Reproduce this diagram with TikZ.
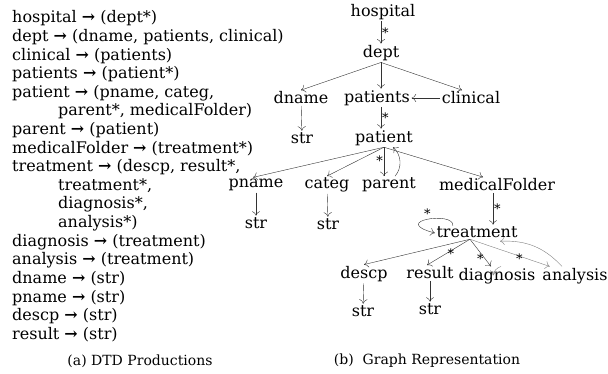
\documentclass[tikz,border=0pt]{standalone}
\usepackage{fontspec}
\setmainfont{DejaVu Serif}
\usetikzlibrary{arrows.meta,positioning}
\tikzstyle{prod} = [anchor=west, inner sep=0pt, text height=12pt, text depth=4pt, font=\fontsize{16}{18}\selectfont]
\tikzstyle{elem} = [inner sep=1.5pt, font=\fontsize{16}{18}\selectfont]
\tikzstyle{link} = [draw=black!80, -{To[length=4.5pt,width=8pt]}]
\tikzstyle{back} = [link, draw=black!50]
\tikzstyle{mult} = [inner sep=1pt, font=\fontsize{13}{13}\selectfont]
\tikzstyle{caption} = [font=\fontsize{14}{16}\selectfont]
\newcommand{\ra}{\textbf{→}}

\begin{document}
\begin{tikzpicture}[x=1pt,y=-1pt]
\useasboundingbox (0,0) rectangle (608,374);
% DTD productions
\node[prod] (p1) at (12,19) {hospital \ra{} (dept*)};
\node[prod] (p2) at (12,37.6) {dept \ra{} (dname, patients, clinical)};
\node[prod] (p3) at (12,56.2) {clinical \ra{} (patients)};
\node[prod] (p4) at (12,74.8) {patients \ra{} (patient*)};
\node[prod] (p5) at (12,93.4) {patient \ra{} (pname, categ,};
\node[prod] (p6) at (58,112) {parent*, medicalFolder)};
\node[prod] (p7) at (12,130.6) {parent \ra{} (patient)};
\node[prod] (p8) at (12,149.2) {medicalFolder \ra{} (treatment*)};
\node[prod] (p9) at (12,167.8) {treatment \ra{} (descp, result*,};
\node[prod] (p10) at (58,186.4) {treatment*,};
\node[prod] (p11) at (58,205) {diagnosis*,};
\node[prod] (p12) at (58,223.6) {analysis*)};
\node[prod] (p13) at (12,242.2) {diagnosis \ra{} (treatment)};
\node[prod] (p14) at (12,260.8) {analysis \ra{} (treatment)};
\node[prod] (p15) at (12,279.4) {dname \ra{} (str)};
\node[prod] (p16) at (12,298) {pname \ra{} (str)};
\node[prod] (p17) at (12,316.6) {descp \ra{} (str)};
\node[prod] (p18) at (12,335.2) {result \ra{} (str)};
\node[caption] (capa) at (140,361) {(a) DTD Productions};

% graph
\node[elem] (hosp) at (383,12) {hospital};
\node[elem] (dept) at (381,53) {dept};
\node[elem] (dname) at (301,98) {dname};
\node[elem] (patients) at (377,98) {patients};
\node[elem] (clinical) at (471,98) {clinical};
\node[elem] (str1) at (302,138) {str};
\node[elem] (patient) at (384,138) {patient};
\node[elem] (pname) at (256,185) {pname};
\node[elem] (categ) at (327,185) {categ};
\node[elem] (parent) at (389,185) {parent};
\node[elem] (medfold) at (497,185) {medicalFolder};
\node[elem] (str2) at (256,223) {str};
\node[elem] (str3) at (328,224) {str};
\node[elem] (treat) at (477,232) {treatment};
\node[elem] (descp) at (364,274) {descp};
\node[elem] (result) at (430,273) {result};
\node[elem] (diag) at (497,276) {diagnosis};
\node[elem] (anal) at (575,276) {analysis};
\node[elem] (str4) at (363,311) {str};
\node[elem] (str5) at (430,309) {str};
\node[caption] (capb) at (427,361) {(b)\ \ Graph Representation};

\draw[link] (hosp.south -| dept) -- node[mult, right] (m1) {*} (dept);
\draw[link] (dept.south) -- (dname.north);
\draw[link] (dept.south) -- (dept.south |- patients.north);
\draw[link] (dept.south) -- ([xshift=-9pt]clinical.north);
\draw[link] (clinical.west) -- (patients.east);
\draw[link] (dname) -- (str1);
\draw[link] (patients.south -| dept) -- node[mult, right] (m2) {*} (patient.north -| dept);
\draw[link] (patient.south) -- ([xshift=-3pt]pname.north);
\draw[link] (patient.south) -- (categ.north);
\draw[link] (patient.south) -- node[mult, left, pos=0.45] (m3) {*} (patient.south |- parent.north);
\draw[link] ([xshift=6pt]parent.north) to[bend right=45] ([xshift=9pt]patient.south);
\draw[link] (patient.south) -- ([xshift=-14pt]medfold.north);
\draw[link] (pname) -- (str2);
\draw[link] (categ) -- (str3);
\draw[link] ([xshift=-4pt]medfold.south) -- node[mult, right] (m4) {*} ([xshift=-4pt]medfold.south |- treat.north);
\draw[link] ([xshift=18pt,yshift=-1pt]treat.north west) .. controls +(2,-15) and +(-46,-12) .. node[mult, above, pos=0.5] (m5) {*} ([yshift=-1pt]treat.west);
\coordinate (tb) at ([xshift=-7pt]treat.south);
\draw[link] (tb) -- (descp.north);
\draw[link] (tb) -- node[mult, right, pos=0.55] (m6) {*} ([xshift=-3pt]result.north);
\draw[link] (tb) -- node[mult, left, pos=0.7] (m7) {*} ([xshift=-6pt]diag.north);
\draw[back] ([xshift=4pt]diag.north) to[bend right=30] ([xshift=-4pt,yshift=-9pt]diag.north);
\draw[back] (tb) -- node[mult, below, pos=0.62, inner sep=0pt, yshift=2.5pt] (m8) {*} ([xshift=9pt]anal.north west);
\draw[back] ([xshift=-13pt]anal.north) to[bend right=25] ([xshift=23pt,yshift=-2pt]treat.south);
\draw[link] (descp) -- (str4);
\draw[link] (result) -- (str5);
\end{tikzpicture}
\end{document}
